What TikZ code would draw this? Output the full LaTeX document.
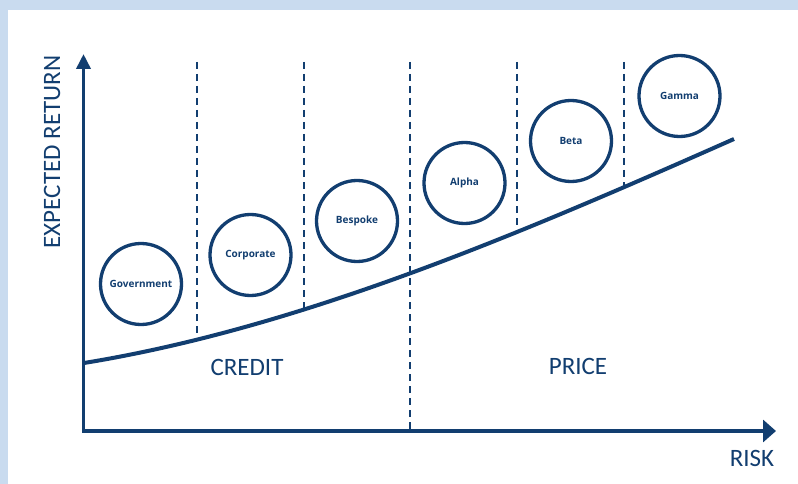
\documentclass[tikz,border=0pt]{standalone}
\usepackage{fontspec}
\setmainfont{Carlito}
\newfontfamily\circfont{Open Sans}
\usetikzlibrary{arrows.meta}
\definecolor{navy}{RGB}{18,62,112}
\definecolor{frame}{RGB}{201,219,239}
\tikzset{
  bubble/.style={circle,draw=navy,line width=3.3pt,minimum size=81pt,inner sep=0pt,
    text=navy,font=\circfont\bfseries\fontsize{10}{12}\selectfont},
  bigtext/.style={text=navy,font=\fontsize{25}{28}\selectfont,inner sep=0pt},
  divider/.style={draw=navy,line width=2pt,dash pattern=on 7pt off 5pt},
  curveline/.style={draw=navy,line width=4pt,line cap=butt},
  axisline/.style={draw=navy,line width=3.6pt}
}
\begin{document}
\begin{tikzpicture}[x=1pt,y=-1pt,
  declare function={ret(\x)=363-16.309*((\x-84)/100)-4.0743*((\x-84)/100)^2+0.19715*((\x-84)/100)^3;}]
\useasboundingbox (0,0) rectangle (798,484);
\fill[frame] (0,0) rectangle (798,484);
\fill[white] (8,10) rectangle (798,484);
% axes
\coordinate (ytip) at (83.5,54);
\coordinate (origin) at (83.5,431);
\coordinate (xtip) at (776,431);
\draw[axisline,line join=miter,arrows={Triangle[width=14pt,length=15pt]-Triangle[width=22pt,length=13pt]}]
  (ytip) -- (origin) -- (xtip);
% curve points where dividers end
\coordinate (c1) at (197,{ret(197)});
\coordinate (c2) at (304,{ret(304)});
\coordinate (c4) at (517,{ret(517)});
\coordinate (c5) at (624,{ret(624)});
% divider tops
\coordinate (t1) at (197,62);
\coordinate (t2) at (304,62);
\coordinate (t3) at (410,62);
\coordinate (t4) at (517,62);
\coordinate (t5) at (624,62);
\coordinate (b3) at (410,429);
\draw[divider] (t1) -- (c1);
\draw[divider] (t2) -- (c2);
\draw[divider] (t3) -- (b3);
\draw[divider] (t4) -- (c4);
\draw[divider] (t5) -- (c5);
\draw[curveline] plot[domain=84:734,samples=66,smooth] (\x,{ret(\x)});
% bubbles
\node[bubble] (gov) at (141,284) {Government};
\node[bubble] (corp) at (250.5,255) {Corporate};
\node[bubble] (besp) at (357,221) {Bespoke};
\node[bubble] (alpha) at (464.5,183) {Alpha};
\node[bubble] (beta) at (571,141) {Beta};
\node[bubble] (gamma) at (679.5,96) {Gamma};
% labels
\node[bigtext,rotate=90] (yl) at (52,152) {EXPECTED RETURN};
\node[bigtext] (credit) at (247,367) {CREDIT};
\node[bigtext] (price) at (578,366) {PRICE};
\node[bigtext] (risk) at (752,458) {RISK};
\end{tikzpicture}
\end{document}
